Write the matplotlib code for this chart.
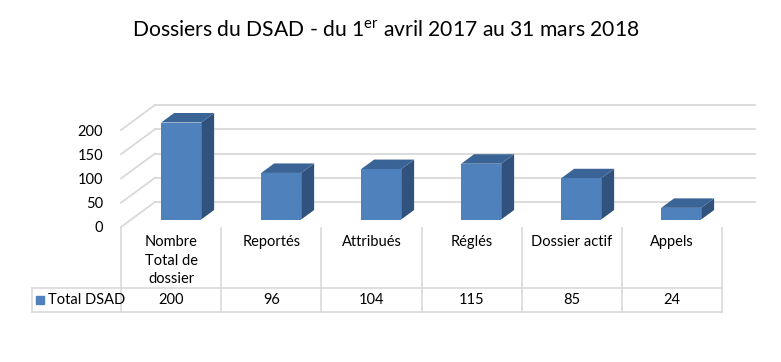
import numpy as np
import matplotlib.pyplot as plt
from matplotlib.patches import Polygon

categories = ["Nombre\nTotal de\ndossier", "Reportés", "Attribués", "Réglés",
              "Dossier actif", "Appels"]
total_dsad = [200, 96, 104, 115, 85, 24]
series_name = "Total DSAD"
y_ticks = [0, 50, 100, 150, 200]
title = "Dossiers du DSAD - du 1$^{\\rm er}$ avril 2017 au 31 mars 2018"

plt.rcParams['font.family'] = ['Lato', 'DejaVu Sans']
plt.rcParams['mathtext.fontset'] = 'custom'
plt.rcParams['mathtext.rm'] = 'Lato'

W, H = 781, 362
fig = plt.figure(figsize=(W / 100, H / 100), dpi=100)


def box(x0, y0, x1, y1):
    # pixel box (from top left) -> figure fraction
    return [x0 / W, 1 - y1 / H, (x1 - x0) / W, (y1 - y0) / H]


grid_c = "#d9d9d9"
front_c = "#4f81bd"
top_c = "#3b6496"
side_c = "#31527c"

# main chart
ax = fig.add_axes(box(121, 95, 760, 227))
px_cat = 100.0
px_val = 97.0 / 200
ax.set_xlim(-0.5, -0.5 + (760 - 121) / px_cat)
ax.set_ylim(0, (227 - 95) / px_val)
for s in ax.spines.values():
    s.set_visible(False)
ax.set_xticks([])
ax.set_yticks(y_ticks)
ax.tick_params(axis='y', length=0, pad=13, labelsize=10.5, labelcolor="#000000")

DX = 34 / px_cat
DY = 25 / px_val
n = len(total_dsad)

for v in y_ticks:
    ax.plot([-0.5, -0.5 + DX], [v, v + DY], color=grid_c, lw=1.3, clip_on=False)
    ax.plot([-0.5 + DX, n - 0.5 + DX], [v + DY, v + DY], color=grid_c, lw=1.3,
            clip_on=False)

z0, z1, hw = 0.3, 0.68, 0.2
for i, v in enumerate(total_dsad):
    fx0 = i - hw + z0 * DX
    fx1 = i + hw + z0 * DX
    fy = z0 * DY
    bx0 = i - hw + z1 * DX
    bx1 = i + hw + z1 * DX
    by = z1 * DY
    front = [(fx0, fy), (fx1, fy), (fx1, fy + v), (fx0, fy + v)]
    top = [(fx0, fy + v), (fx1, fy + v), (bx1, by + v), (bx0, by + v)]
    side = [(fx1, fy), (bx1, by), (bx1, by + v), (fx1, fy + v)]
    ax.add_patch(Polygon(side, closed=True, fc=side_c, ec='none', zorder=3))
    ax.add_patch(Polygon(top, closed=True, fc=top_c, ec='none', zorder=3))
    ax.add_patch(Polygon(front, closed=True, fc=front_c, ec='none', zorder=4))

# data table
tax = fig.add_axes(box(32, 228, 722, 312))
left = -0.5 - (121 - 32) / px_cat
tax.set_xlim(left, n - 0.5)
tax.set_ylim(84, 0)
tax.axis('off')
row_y = 60
for yy in [row_y, 84]:
    tax.plot([left, n - 0.5], [yy, yy], color=grid_c, lw=1.2, clip_on=False)
tax.plot([left, left], [row_y, 84], color=grid_c, lw=1.2, clip_on=False)
for k in range(n + 1):
    tax.plot([k - 0.5, k - 0.5], [0, 84], color=grid_c, lw=1.2, clip_on=False)

for i, (cat, v) in enumerate(zip(categories, total_dsad)):
    tax.text(i, 7, cat, ha='center', va='top', fontsize=10.5, linespacing=1.42)
    tax.text(i, 72, str(v), ha='center', va='center', fontsize=10.5)

tax.plot([left + 0.075], [72], marker='s', ms=5.2, color=front_c, clip_on=False)
tax.text(left + 0.16, 72, series_name, ha='left', va='center', fontsize=10.5)

fig.text(386 / W, 1 - 30 / H, title, ha='center', va='center', fontsize=15.2)

fig.savefig("out.png", dpi=100)
